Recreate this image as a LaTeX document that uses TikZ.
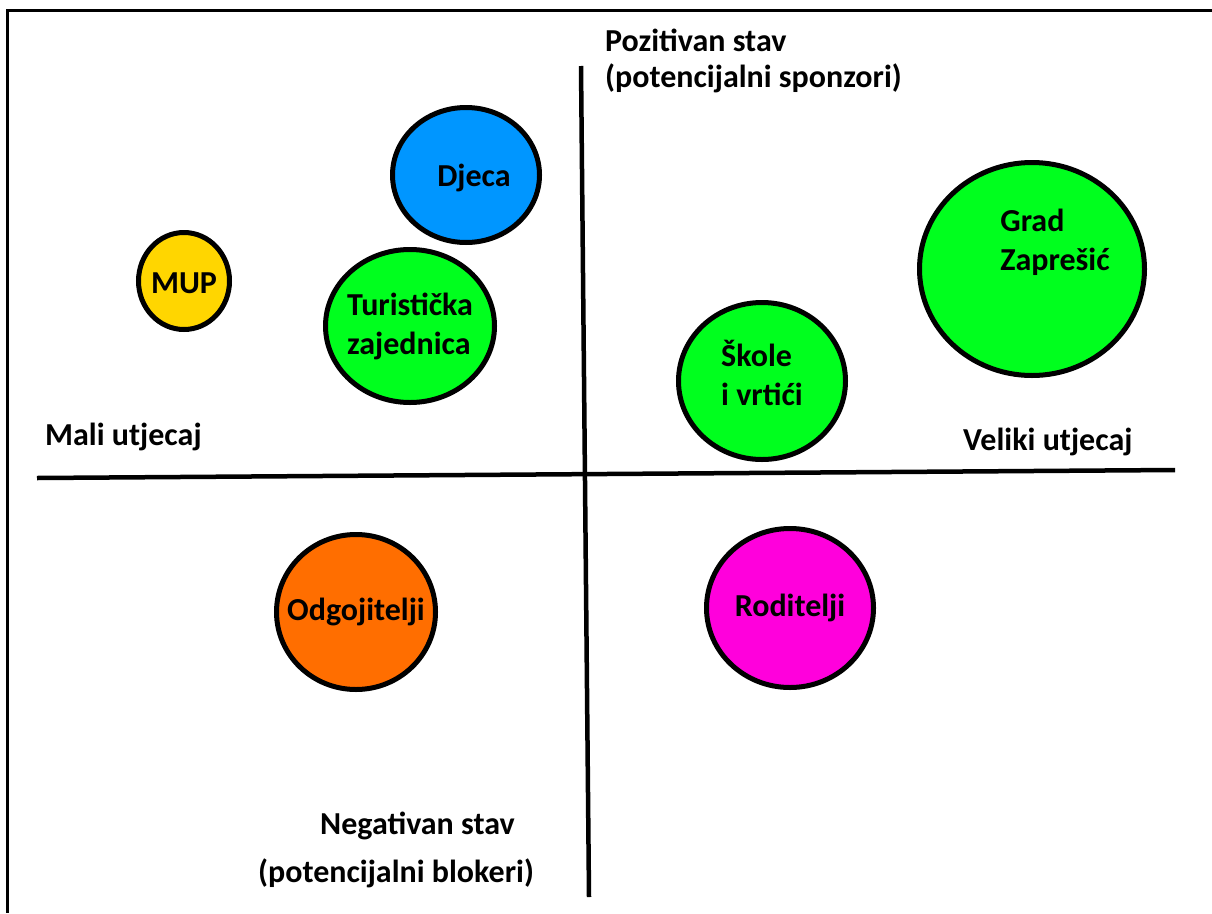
\documentclass[tikz,border=0pt]{standalone}
\usepackage{fontspec}
\setmainfont{Carlito}
\usetikzlibrary{shapes.geometric,positioning}

\definecolor{djecaBlue}{RGB}{0,150,255}
\definecolor{mupYellow}{RGB}{255,214,0}
\definecolor{stavGreen}{RGB}{0,255,30}
\definecolor{odgOrange}{RGB}{255,110,0}
\definecolor{rodMagenta}{RGB}{255,0,220}

\begin{document}
\begin{tikzpicture}[x=1pt,y=-1pt,
    font=\bfseries\fontsize{32}{39}\selectfont,
    stakeholder/.style={ellipse,draw=black,line width=5pt,inner sep=0pt},
    axis label/.style={anchor=west,inner sep=0pt},
    axis/.style={line width=4.5pt}]

    \useasboundingbox (0,0) rectangle (1212,913);
    \draw[line width=3pt] (1212,10) -- (7,10) -- (7,913);

    % axes
    \coordinate (AxisTop) at (581,66);
    \coordinate (AxisBottom) at (589,897);
    \coordinate (AxisLeft) at (37,478);
    \coordinate (AxisRight) at (1175,470);
    \draw[axis] (AxisTop) -- (AxisBottom);
    \draw[axis] (AxisLeft) -- (AxisRight);

    \node[axis label] (PozitivanStav) at (605,40) {Pozitivan stav};
    \node[axis label] (PotencijalniSponzori) at (605,78) {(potencijalni sponzori)};
    \node[axis label] (MaliUtjecaj) at (45,437) {Mali utjecaj};
    \node[axis label] (VelikiUtjecaj) at (963,442) {Veliki utjecaj};
    \node[axis label] (NegativanStav) at (320,826) {Negativan stav};
    \node[axis label] (PotencijalniBlokeri) at (258,873) {(potencijalni blokeri)};

    % stakeholders
    \node[stakeholder, fill=djecaBlue, minimum width=147pt, minimum height=135pt,
          label={[xshift=8pt,yshift=-3pt]center:Djeca}] (Djeca) at (466,175) {};
    \node[stakeholder, fill=mupYellow, minimum width=91pt, minimum height=97pt,
          label={[yshift=-2pt]center:MUP}] (MUP) at (184,281) {};
    \node[stakeholder, fill=stavGreen, minimum width=169pt, minimum height=153pt,
          label={[align=left]center:{Turistička\\zajednica}}] (TuristickaZajednica) at (410,326) {};
    \node[stakeholder, fill=stavGreen, minimum width=225pt, minimum height=213pt,
          label={[align=left,xshift=23pt,yshift=27pt]center:{Grad\\Zaprešić}}] (GradZapresic) at (1032,269) {};
    \node[stakeholder, fill=stavGreen, minimum width=167pt, minimum height=157pt,
          label={[align=left,yshift=8pt]center:{Škole\\i vrtići}}] (SkoleVrtici) at (762,381) {};
    \node[stakeholder, fill=odgOrange, minimum width=159pt, minimum height=155pt,
          label={center:Odgojitelji}] (Odgojitelji) at (356,612) {};
    \node[stakeholder, fill=rodMagenta, minimum width=167pt, minimum height=159pt,
          label={center:Roditelji}] (Roditelji) at (790,608) {};
\end{tikzpicture}
\end{document}
